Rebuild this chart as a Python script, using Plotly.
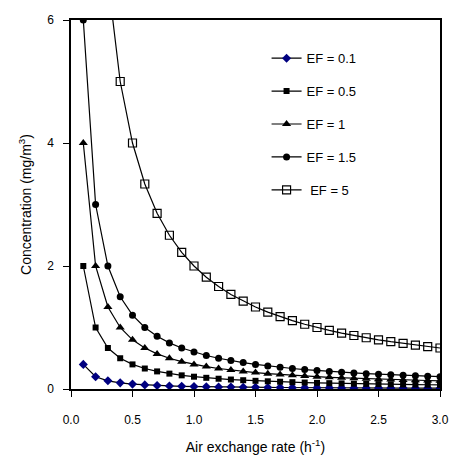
import plotly.graph_objects as go

# air exchange rate (h^-1)
rate = [0.1, 0.2, 0.3, 0.4, 0.5, 0.6, 0.7, 0.8, 0.9, 1.0,
        1.1, 1.2, 1.3, 1.4, 1.5, 1.6, 1.7, 1.8, 1.9, 2.0,
        2.1, 2.2, 2.3, 2.4, 2.5, 2.6, 2.7, 2.8, 2.9, 3.0]

# concentration (mg/m3)
ef_01 = [0.4, 0.2, 0.133, 0.1, 0.08, 0.067, 0.057, 0.05, 0.044, 0.04,
         0.036, 0.033, 0.031, 0.029, 0.027, 0.025, 0.024, 0.022, 0.021, 0.02,
         0.019, 0.018, 0.017, 0.017, 0.016, 0.015, 0.015, 0.014, 0.014, 0.013]
ef_05 = [2.0, 1.0, 0.667, 0.5, 0.4, 0.333, 0.286, 0.25, 0.222, 0.2,
         0.182, 0.167, 0.154, 0.143, 0.133, 0.125, 0.118, 0.111, 0.105, 0.1,
         0.095, 0.091, 0.087, 0.083, 0.08, 0.077, 0.074, 0.071, 0.069, 0.067]
ef_1 = [4.0, 2.0, 1.333, 1.0, 0.8, 0.667, 0.571, 0.5, 0.444, 0.4,
        0.364, 0.333, 0.308, 0.286, 0.267, 0.25, 0.235, 0.222, 0.211, 0.2,
        0.19, 0.182, 0.174, 0.167, 0.16, 0.154, 0.148, 0.143, 0.138, 0.133]
ef_15 = [6.0, 3.0, 2.0, 1.5, 1.2, 1.0, 0.857, 0.75, 0.667, 0.6,
         0.545, 0.5, 0.462, 0.429, 0.4, 0.375, 0.353, 0.333, 0.316, 0.3,
         0.286, 0.273, 0.261, 0.25, 0.24, 0.231, 0.222, 0.214, 0.207, 0.2]
ef_5 = [20.0, 10.0, 6.667, 5.0, 4.0, 3.333, 2.857, 2.5, 2.222, 2.0,
        1.818, 1.667, 1.538, 1.429, 1.333, 1.25, 1.176, 1.111, 1.053, 1.0,
        0.952, 0.909, 0.87, 0.833, 0.8, 0.769, 0.741, 0.714, 0.69, 0.667]

series = [
    ("EF = 0.1", ef_01, dict(symbol="diamond", size=7, color="#000080")),
    ("EF = 0.5", ef_05, dict(symbol="square", size=6, color="black")),
    ("EF = 1", ef_1, dict(symbol="triangle-up", size=8, color="black")),
    ("EF = 1.5", ef_15, dict(symbol="circle", size=7, color="black")),
    (" EF = 5", ef_5, dict(symbol="square-open", size=8, color="black",
                           line=dict(width=1.2, color="black"))),
]

fig = go.Figure()
for i, (name, vals, mk) in enumerate(series):
    fig.add_trace(go.Scatter(
        x=rate, y=vals, name=name, mode="lines+markers",
        line=dict(color="black", width=1.2),
        marker=mk, legendgroup=str(i),
    ))

fnt = dict(family="Liberation Sans, Arial, sans-serif", size=12, color="black")

fig.update_layout(
    width=450, height=459,
    margin=dict(l=71, r=10, t=20, b=70),
    paper_bgcolor="white", plot_bgcolor="white",
    font=fnt,
    showlegend=True,
    legend=dict(x=0.53, y=0.937, xanchor="left", yanchor="top",
                bgcolor="rgba(0,0,0,0)", tracegroupgap=13,
                font=dict(family="Liberation Sans, Arial, sans-serif", size=13)),
    xaxis=dict(range=[0, 3.0], dtick=0.5, tickformat=".1f", automargin=False,
               showline=True, linecolor="black", linewidth=1.5, mirror=True,
               ticks="outside", ticklen=6, tickcolor="black",
               ticklabelstandoff=13,
               showgrid=False, zeroline=False, tickfont=dict(size=12),
               title=dict(text="Air exchange rate (h<sup>-1</sup>)", standoff=16)),
    yaxis=dict(range=[0, 6], dtick=2, automargin=False,
               showline=True, linecolor="black", linewidth=1.5, mirror=True,
               ticks="outside", ticklen=6, tickcolor="black",
               ticklabelstandoff=7,
               showgrid=False, zeroline=False, tickfont=dict(size=12),
               title=dict(text="Concentration (mg/m<sup>3</sup>)", standoff=12)),
)

# drop the default 8px body margin so the figure fills the window
fig.write_html("out.html", config={"displayModeBar": False},
               post_script="document.body.style.margin='0px';")
